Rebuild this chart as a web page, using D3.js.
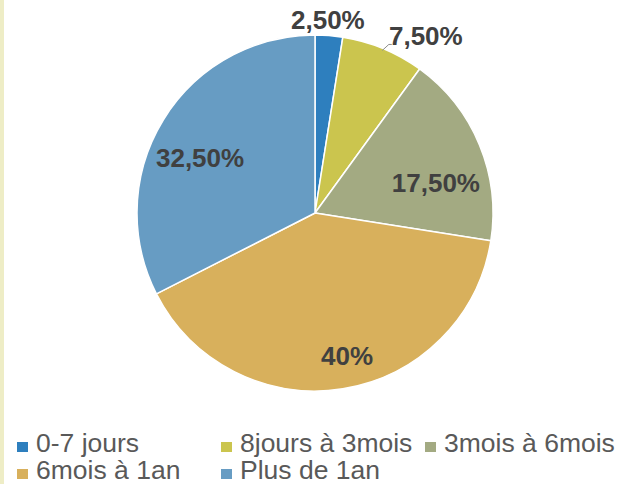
<!DOCTYPE html>
<html>
<head>
<meta charset="utf-8">
<script src="https://cdn.jsdelivr.net/npm/d3@7"></script>
<style>
    html, body { margin: 0; padding: 0; background: #fff; }
    svg { display: block; font-family: "Liberation Sans", Arial, sans-serif; }
</style>
</head>
<body>
<div id="chart"></div>
<script>
// données
let categories = ["0-7 jours", "8jours à 3mois", "3mois à 6mois", "6mois à 1an", "Plus de 1an"];
let values = [2.5, 7.5, 17.5, 40, 32.5];
let labels = ["2,50%", "7,50%", "17,50%", "40%", "32,50%"];
let colors = ["#2E7FBE", "#CBC54E", "#A3AA82", "#D8B05C", "#679CC3"];

// placement des étiquettes (facteur de rayon, décalage d'angle en degrés)
let labelRadius = [1.09, 1.175, 0.70, 0.82, 0.716];
let labelShift = [-0.7, 9.5, 8.5, -3.7, -5.9];

(function () {
    let width = 618, height = 484;
    let cx = 315, cy = 213, radius = 178;

    let svg = d3.select("#chart").append("svg")
        .attr("width", width)
        .attr("height", height);

    // bordure gauche
    svg.append("rect")
        .attr("x", 0).attr("y", 0)
        .attr("width", 4).attr("height", height)
        .attr("fill", "#EEEDC6");

    let pie = d3.pie().sort(null).value(d => d);
    let arcs = pie(values);
    let arc = d3.arc().innerRadius(0).outerRadius(radius);

    let g = svg.append("g").attr("transform", "translate(" + cx + "," + cy + ")");

    g.selectAll(".slice")
        .data(arcs)
        .enter()
        .append("path")
        .attr("class", "slice")
        .attr("d", arc)
        .attr("fill", (d, i) => colors[i])
        .attr("stroke", "#fff")
        .attr("stroke-width", 1.5)
        .attr("stroke-linejoin", "round");

    let polar = (a, r) => [r * Math.sin(a), -r * Math.cos(a)];

    // ligne de rappel pour l'étiquette extérieure (7,50%)
    let d1 = arcs[1];
    let m1 = (d1.startAngle + d1.endAngle) / 2;
    let p0 = polar(m1, radius - 2);
    let p1 = polar(m1 + 0.02, radius + 6);
    g.append("polyline")
        .attr("points", [p0, p1, [p1[0] + 3, p1[1]]].map(p => p.join(",")).join(" "))
        .attr("fill", "none")
        .attr("stroke", "#8C8C8C")
        .attr("stroke-width", 1);

    g.selectAll(".lbl")
        .data(arcs)
        .enter()
        .append("text")
        .attr("class", "lbl")
        .attr("transform", (d, i) => {
            let a = (d.startAngle + d.endAngle) / 2 + labelShift[i] * Math.PI / 180;
            let p = polar(a, radius * labelRadius[i]);
            return "translate(" + p[0] + "," + p[1] + ")";
        })
        .attr("text-anchor", "middle")
        .attr("dy", "0.36em")
        .attr("font-size", 26)
        .attr("font-weight", "bold")
        .attr("fill", "#404040")
        .text((d, i) => labels[i]);

    // légende
    let legendCols = [17, 221, 425];
    let legendRows = [452, 479];
    let legend = svg.selectAll(".legend")
        .data(categories)
        .enter()
        .append("g")
        .attr("class", "legend")
        .attr("transform", (d, i) => "translate(" + legendCols[i % 3] + "," + legendRows[Math.floor(i / 3)] + ")");

    legend.append("rect")
        .attr("x", 0).attr("y", -10)
        .attr("width", 11).attr("height", 10)
        .attr("fill", (d, i) => colors[i]);

    legend.append("text")
        .attr("x", 19)
        .attr("y", 0)
        .attr("font-size", 26.5)
        .attr("fill", "#595959")
        .text(d => d);
})();
</script>
</body>
</html>
